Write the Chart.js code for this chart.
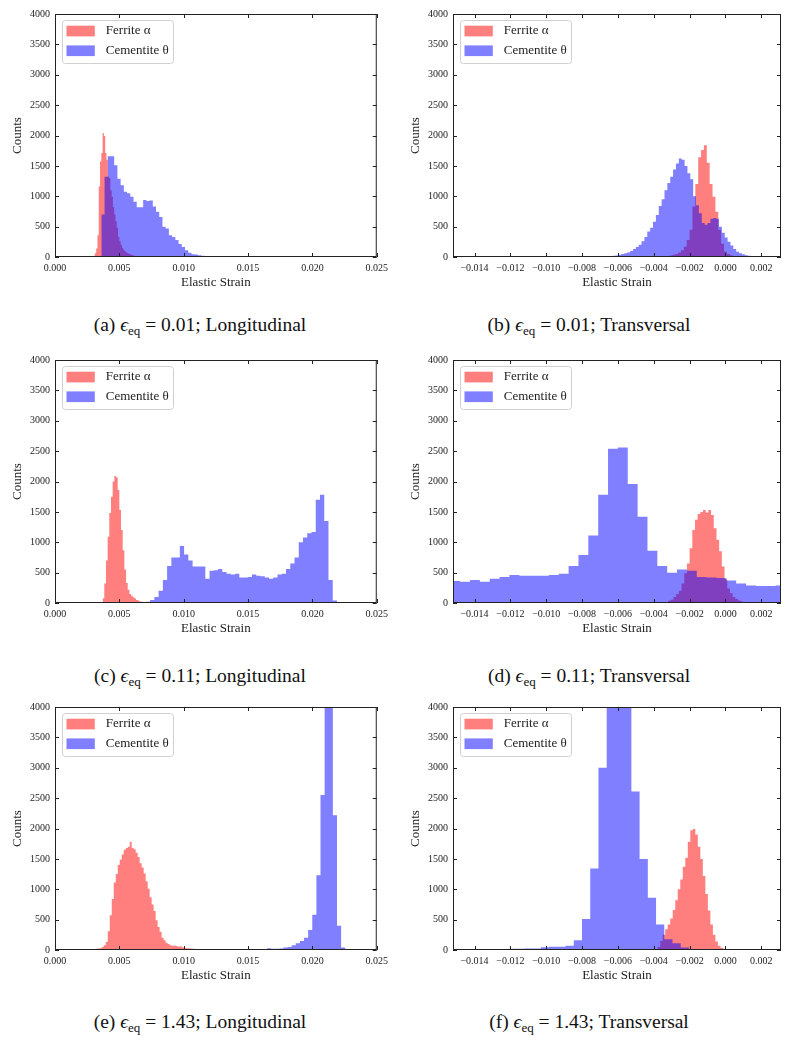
<!DOCTYPE html>
<html>
<head>
<meta charset="utf-8">
<script src="https://cdn.jsdelivr.net/npm/chart.js@4.4.1/dist/chart.umd.min.js"></script>
<style>
  body { margin: 0; background: #fff; width: 787px; height: 1044px; position: relative; overflow: hidden;
         font-family: "Liberation Serif", "Times New Roman", serif; }
  canvas { position: absolute; }
  .cap { position: absolute; width: 380px; text-align: center; font-size: 19.5px; line-height: 22px; color: #111; }
  .cap i { font-style: italic; }
  .cap sub { font-size: 13px; vertical-align: -4px; line-height: 0; }
</style>
</head>
<body>
<div class="cap" style="left:10px; top:314px">(a) <i>ϵ</i><sub>eq</sub> = 0.01; Longitudinal</div>
<div class="cap" style="left:399px; top:314px">(b) <i>ϵ</i><sub>eq</sub> = 0.01; Transversal</div>
<div class="cap" style="left:10px; top:665px">(c) <i>ϵ</i><sub>eq</sub> = 0.11; Longitudinal</div>
<div class="cap" style="left:399px; top:665px">(d) <i>ϵ</i><sub>eq</sub> = 0.11; Transversal</div>
<div class="cap" style="left:10px; top:1011px">(e) <i>ϵ</i><sub>eq</sub> = 1.43; Longitudinal</div>
<div class="cap" style="left:399px; top:1011px">(f) <i>ϵ</i><sub>eq</sub> = 1.43; Transversal</div>
<script>
// --- axes ---
const longRange = [0, 0.025];
const transRange = [-0.0152, 0.0031];
const longTicks = [0, 0.005, 0.010, 0.015, 0.020, 0.025];
const transTicks = [-0.014, -0.012, -0.010, -0.008, -0.006, -0.004, -0.002, 0, 0.002];
const countTicks = [0, 500, 1000, 1500, 2000, 2500, 3000, 3500, 4000];

// --- histogram counts (bin start, bin width, counts per bin) ---
// (a) eq = 0.01, longitudinal
const ferriteAStart = 0.0030, ferriteABin = 0.0001;
const ferriteA = [20, 60, 140, 360, 1160, 1570, 1710, 2040, 1990, 1710, 1600, 1320, 1300, 1100, 990, 820, 700, 590, 480, 330,
  260, 200, 150, 120, 100, 80, 65, 55, 45, 35, 30, 20, 15, 10, 8, 6, 5, 4, 3, 2];
const cementiteAStart = 0.0036, cementiteABin = 0.00025;
const cementiteA = [700, 1320, 1660, 1660, 1510, 1290, 1180, 1075, 1050, 990, 910, 820, 820, 940, 920, 930, 830, 745, 660, 500,
  470, 360, 330, 280, 215, 165, 110, 70, 45, 40, 30, 20, 15, 10, 8, 5, 5, 3, 2, 2];

// (b) eq = 0.01, transversal
const ferriteBStart = -0.0036, ferriteBBin = 0.00016;
const ferriteB = [5, 10, 15, 25, 35, 50, 75, 110, 170, 280, 450, 830, 1200, 1640, 1760, 1840, 1550, 1200, 990, 745,
  450, 220, 90, 50, 30, 15, 8];
const cementiteBStart = -0.0066, cementiteBBin = 0.00016;
const cementiteB = [10, 15, 20, 25, 35, 50, 60, 75, 100, 130, 165, 200, 260, 330, 420, 480, 580, 690, 840, 950,
  1100, 1220, 1320, 1440, 1540, 1620, 1600, 1500, 1380, 1280, 1000, 850, 720, 560, 530, 560, 630, 640, 630, 500,
  400, 320, 250, 190, 130, 85, 60, 45, 30, 20, 10];

// (c) eq = 0.11, longitudinal
const ferriteCStart = 0.0037, ferriteCBin = 0.00013;
const ferriteC = [80, 320, 700, 1090, 1480, 1750, 2000, 2090, 2070, 1860, 1530, 1200, 870, 550, 330, 220, 150, 120, 95, 75,
  50, 40, 25, 20, 15, 10];
const cementiteCStart = 0.00706, cementiteCBin = 0.00033;
const cementiteC = [20, 50, 100, 200, 380, 610, 750, 750, 940, 800, 700, 600, 600, 600, 400, 530, 540, 560, 510, 480,
  470, 480, 420, 420, 430, 470, 450, 440, 420, 400, 420, 470, 480, 560, 650, 750, 1000, 1080, 1150, 1170,
  1700, 1780, 1350, 380, 40];

// (d) eq = 0.11, transversal
const ferriteDStart = -0.0035, ferriteDBin = 0.00015;
const ferriteD = [5, 15, 35, 55, 100, 150, 200, 320, 490, 650, 900, 1200, 1370, 1465, 1500, 1530, 1490, 1530, 1450, 1230,
  1040, 850, 600, 390, 240, 160, 100, 65, 40, 25, 12, 5];
const cementiteDStart = -0.01535, cementiteDBin = 0.00055;
const cementiteD = [362, 350, 380, 350, 400, 430, 460, 450, 450, 450, 460, 480, 610, 790, 1110, 1780, 2540, 2560, 1960, 1420,
  860, 610, 500, 550, 530, 430, 420, 410, 370, 320, 290, 280, 280, 290];

// (e) eq = 1.43, longitudinal
const ferriteEStart = 0.00286, ferriteEBin = 0.000155;
const ferriteE = [10, 15, 20, 25, 30, 50, 80, 130, 310, 570, 840, 1110, 1250, 1400, 1490, 1570, 1650, 1680, 1700, 1780,
  1680, 1660, 1600, 1530, 1430, 1360, 1260, 1130, 1010, 870, 750, 640, 490, 380, 300, 200, 160, 120, 100, 80,
  70, 75, 65, 55, 60, 45, 35, 30, 30, 25, 20, 20, 15, 15, 10, 10];
const cementiteEStart = 0.01487, cementiteEBin = 0.00032;
const cementiteE = [5, 5, 8, 10, 15, 30, 20, 20, 25, 40, 50, 80, 110, 150, 200, 330, 580, 1230, 2550, 4500,
  4300, 2220, 400, 40, 5];

// (f) eq = 1.43, transversal
const ferriteFStart = -0.0042, ferriteFBin = 0.00014;
const ferriteF = [5, 10, 15, 50, 150, 250, 340, 420, 520, 660, 820, 1000, 1160, 1370, 1520, 1780, 1970, 1990, 1900, 1700,
  1500, 1220, 920, 650, 420, 250, 140, 70, 35, 20, 10, 5];
const cementiteFStart = -0.01351, cementiteFBin = 0.000459;
const cementiteF = [10, 10, 15, 20, 20, 25, 25, 45, 55, 55, 70, 160, 510, 1340, 3000, 4500, 4800, 4300, 2610, 1500,
  860, 420, 175, 110, 40, 10];

// --- look ---
const FERRITE = 'rgba(255, 0, 0, 0.5)';
const CEMENTITE = 'rgba(0, 0, 255, 0.5)';
const INK = '#222';
const SERIF = '"Liberation Serif", "Times New Roman", serif';

Chart.defaults.font.family = SERIF;
Chart.defaults.color = INK;

// bin edges -> step points; last edge closes the bar at zero
function hist(start, bin, counts) {
  const pts = counts.map((c, i) => ({ x: start + i * bin, y: c }));
  pts.push({ x: start + counts.length * bin, y: 0 });
  return pts;
}

function fmtStrain(v) {
  return (v < 0 ? '\u2212' : '') + Math.abs(v).toFixed(3);
}

// inward ticks on all four sides + frame, matplotlib style
const frameTicks = {
  id: 'frameTicks',
  afterDatasetsDraw(chart) {
    const { ctx, chartArea: a, scales: { x, y } } = chart;
    const len = 4;
    ctx.save();
    ctx.strokeStyle = INK;
    ctx.lineWidth = 1;
    ctx.beginPath();
    x.ticks.forEach(t => {
      const px = Math.round(x.getPixelForValue(t.value)) + 0.5;
      ctx.moveTo(px, a.bottom); ctx.lineTo(px, a.bottom - len);
      ctx.moveTo(px, a.top); ctx.lineTo(px, a.top + len);
    });
    y.ticks.forEach(t => {
      const py = Math.round(y.getPixelForValue(t.value)) + 0.5;
      ctx.moveTo(a.left, py); ctx.lineTo(a.left + len, py);
      ctx.moveTo(a.right, py); ctx.lineTo(a.right - len, py);
    });
    ctx.stroke();
    ctx.strokeRect(a.left + 0.5, a.top + 0.5, a.right - a.left - 1, a.bottom - a.top - 1);
    ctx.restore();
  }
};

// legend drawn inside the axes, upper left
const innerLegend = {
  id: 'innerLegend',
  afterDraw(chart) {
    const { ctx, chartArea: a } = chart;
    const x0 = a.left + 7.5, y0 = a.top + 6.5, w = 111, h = 43;
    ctx.save();
    ctx.beginPath();
    if (ctx.roundRect) ctx.roundRect(x0, y0, w, h, 3); else ctx.rect(x0, y0, w, h);
    ctx.fillStyle = 'rgba(255,255,255,0.8)';
    ctx.fill();
    ctx.strokeStyle = '#d0d0d0';
    ctx.lineWidth = 1;
    ctx.stroke();
    ctx.font = '13px ' + SERIF;
    ctx.textBaseline = 'middle';
    chart.data.datasets.forEach((ds, i) => {
      const cy = y0 + 10.5 + i * 19.7;
      ctx.fillStyle = ds.backgroundColor;
      ctx.fillRect(x0 + 4, cy - 5.3, 28.3, 10.7);
      ctx.fillStyle = INK;
      ctx.fillText(ds.label, x0 + 43.3, cy);
    });
    ctx.restore();
  }
};

const COLS = [{ left: 0, width: 393, padRight: 16 }, { left: 398, width: 389, padRight: 6 }];
const ROWS = [0, 346, 693];

function makePanel(col, row, range, ticks, ferritePts, cementitePts) {
  const c = document.createElement('canvas');
  c.width = COLS[col].width;
  c.height = 302;
  c.style.left = COLS[col].left + 'px';
  c.style.top = ROWS[row] + 'px';
  document.body.appendChild(c);

  new Chart(c, {
    type: 'line',
    data: {
      datasets: [
        { label: 'Ferrite \u03b1', data: ferritePts, backgroundColor: FERRITE, order: 1 },
        { label: 'Cementite \u03b8', data: cementitePts, backgroundColor: CEMENTITE, order: 0 },
      ].map(d => Object.assign(d, {
        fill: 'origin', stepped: true, pointRadius: 0, borderWidth: 0, borderColor: 'rgba(0,0,0,0)',
      })),
    },
    options: {
      responsive: false,
      animation: false,
      events: [],
      layout: { padding: { top: 14, right: COLS[col].padRight, left: 0, bottom: 0 } },
      plugins: { legend: { display: false }, tooltip: { enabled: false } },
      scales: {
        x: {
          type: 'linear', min: range[0], max: range[1],
          afterBuildTicks: s => { s.ticks = ticks.map(v => ({ value: v })); },
          afterFit: s => { s.height = 45; },
          grid: { display: false, drawTicks: false },
          border: { display: false },
          ticks: { padding: 5, maxRotation: 0, autoSkip: false, font: { size: 10 }, color: INK,
                   callback: v => fmtStrain(v) },
          title: { display: true, text: 'Elastic Strain', font: { size: 13 }, color: INK, padding: { top: 0, bottom: 12 } },
        },
        y: {
          type: 'linear', min: 0, max: 4000,
          afterBuildTicks: s => { s.ticks = countTicks.map(v => ({ value: v })); },
          afterFit: s => { s.width = 55; },
          grid: { display: false, drawTicks: false },
          border: { display: false },
          ticks: { padding: 5, font: { size: 10 }, color: INK, callback: v => String(v) },
          title: { display: true, text: 'Counts', font: { size: 13 }, color: INK, padding: { top: 10, bottom: 0 } },
        },
      },
    },
    plugins: [frameTicks, innerLegend],
  });
}

makePanel(0, 0, longRange, longTicks,
  hist(ferriteAStart, ferriteABin, ferriteA), hist(cementiteAStart, cementiteABin, cementiteA));
makePanel(1, 0, transRange, transTicks,
  hist(ferriteBStart, ferriteBBin, ferriteB), hist(cementiteBStart, cementiteBBin, cementiteB));
makePanel(0, 1, longRange, longTicks,
  hist(ferriteCStart, ferriteCBin, ferriteC), hist(cementiteCStart, cementiteCBin, cementiteC));
makePanel(1, 1, transRange, transTicks,
  hist(ferriteDStart, ferriteDBin, ferriteD), hist(cementiteDStart, cementiteDBin, cementiteD));
makePanel(0, 2, longRange, longTicks,
  hist(ferriteEStart, ferriteEBin, ferriteE), hist(cementiteEStart, cementiteEBin, cementiteE));
makePanel(1, 2, transRange, transTicks,
  hist(ferriteFStart, ferriteFBin, ferriteF), hist(cementiteFStart, cementiteFBin, cementiteF));
</script>
</body>
</html>
